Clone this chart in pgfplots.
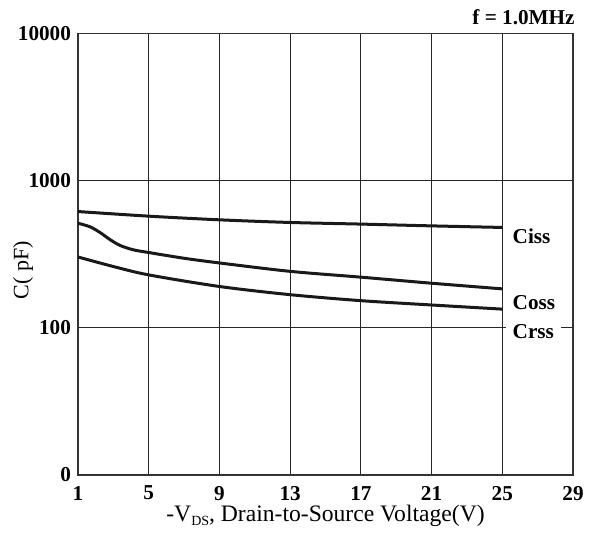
\documentclass[border=0pt]{standalone}
\usepackage{fontspec}
\setmainfont{Liberation Serif}
\usepackage{pgfplots}
\pgfplotsset{compat=1.18}
\begin{document}
\begin{tikzpicture}
\useasboundingbox (-39pt,-33pt) rectangle (257pt,237.5pt);
\begin{axis}[
  at={(0,0)}, anchor=south west,
  scale only axis,
  width=247.5pt, height=220.75pt,
  ymode=log,
  xmin=1, xmax=29, ymin=10, ymax=10000,
  xtick={1,5,9,13,17,21,25,29},
  xticklabels={1,5,9,13,17,21,25,29},
  ytick={10,100,1000,10000},
  yticklabels={0,100,1000,10000},
  minor ytick={}, 
  major tick length=0pt, minor tick length=0pt,
  grid=major,
  major grid style={black!85, line width=0.5pt},
  axis line style={black!80, line width=0.75pt},
  tick label style={font=\fontsize{10.6}{12}\selectfont\bfseries},
  xticklabel style={yshift=-2pt},
  xlabel={-V\raisebox{-0.45ex}{\fontsize{7}{8}\selectfont DS}, Drain-to-Source Voltage(V)},
  ylabel={C( pF)},
  label style={font=\fontsize{11.8}{13}\selectfont},
  ylabel style={font=\fontsize{11}{13}\selectfont},
  xlabel style={at={(axis description cs:0.5,0)}, anchor=base, yshift=-23pt},
  ylabel style={at={(axis description cs:-0.111,0.464)}, anchor=center},
  clip=false,
]
\addplot[line width=1.5pt, black!90, smooth] coordinates {
 (1,617)(5,574)(9,542)(13,520)(17,507)(21,493)(25,481)};
\addplot[line width=1.5pt, black!90, smooth] coordinates {
 (1,514)(1.68,486)(2.24,445)(2.81,398)(3.38,363)(4.13,339)(5,325)(7,297)(9,276)(13,242)(17,221)(21,201)(25,184)};
\addplot[line width=1.5pt, black!90, smooth] coordinates {
 (1,303)(3,261)(5,229)(9,191)(13,168)(17,153)(21,143)(25,134)};
\node[anchor=west, font=\fontsize{10.6}{12}\selectfont\bfseries, inner sep=3.5pt, xshift=1.5pt] at (axis cs:25,422) {Ciss};
\node[anchor=west, font=\fontsize{10.6}{12}\selectfont\bfseries, inner sep=3.5pt, xshift=1.5pt] at (axis cs:25,148) {Coss};
\node[anchor=west, font=\fontsize{10.6}{12}\selectfont\bfseries, inner sep=3.5pt, xshift=1.5pt, fill=white] at (axis cs:25,94.1) {Crss};
\node[anchor=base east, font=\fontsize{10.6}{12}\selectfont\bfseries, inner sep=0pt, xshift=1pt, yshift=4.3pt] at (rel axis cs:1,1) {f = 1.0MHz};
\end{axis}
\end{tikzpicture}
\end{document}
